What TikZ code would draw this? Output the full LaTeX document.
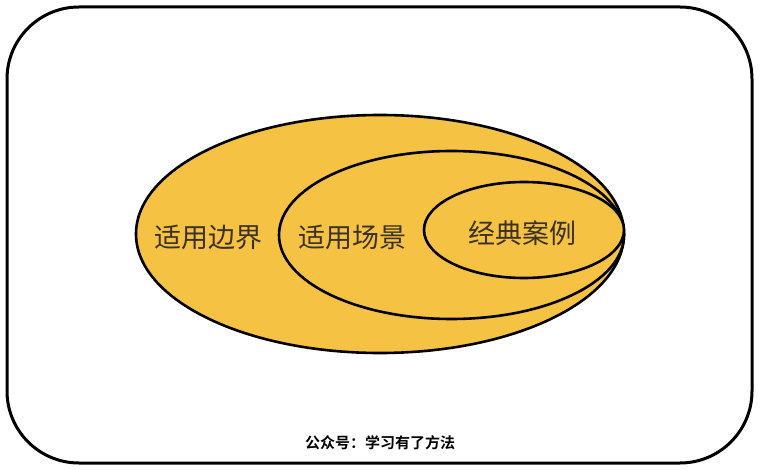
\documentclass[tikz,border=0pt]{standalone}
\usepackage{fontspec}
\newfontfamily\cjk{Noto Sans CJK SC}
\newfontfamily\cjkbold{Noto Sans CJK SC Bold}
\definecolor{fillyellow}{HTML}{F6C244}
\definecolor{txtgray}{HTML}{3A3226}
\begin{document}
\begin{tikzpicture}[x=1pt,y=-1pt,
  ring/.style={draw=black,line width=2.6pt,fill=fillyellow},
  lbl/.style={font=\cjk\fontsize{27}{27}\selectfont,text=txtgray,inner sep=0pt},
  foot/.style={font=\cjkbold\fontsize{15}{15}\selectfont,text=black,inner sep=0pt}]
\useasboundingbox (0,0) rectangle (760,470);
\draw[line width=3pt,rounded corners=72pt] (7,7) rectangle (752,463);
\draw[ring] (380,234) ellipse [x radius=244, y radius=119];
\draw[ring] (451.5,235) ellipse [x radius=172.5, y radius=84];
\draw[ring] (524,230) ellipse [x radius=100, y radius=48];
\node[lbl] (boundary) at (208,237) {适用边界};
\node[lbl] (scene) at (352,237) {适用场景};
\node[lbl] (cases) at (522,233) {经典案例};
\node[foot] (footer) at (380,443) {公众号：学习有了方法};
\end{tikzpicture}
\end{document}
